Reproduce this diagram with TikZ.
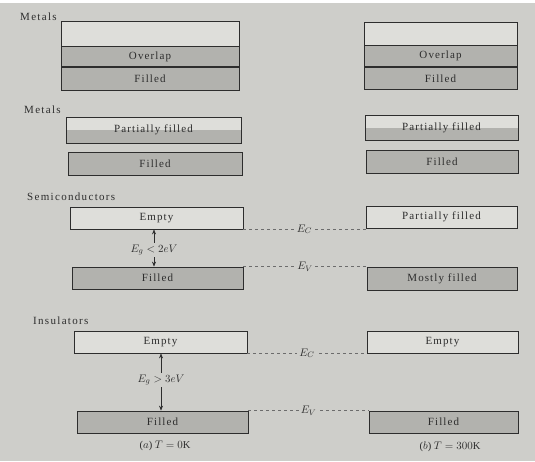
\documentclass[tikz,border=0pt]{standalone}
\usepackage{fontspec}
\setmainfont{Liberation Serif}
\usetikzlibrary{arrows.meta}
\definecolor{bgc}{RGB}{206,206,202}
\definecolor{emptyc}{RGB}{222,222,218}
\definecolor{fillc}{RGB}{178,178,174}
\definecolor{inkc}{RGB}{45,45,45}
\tikzset{
  band/.style={draw=inkc, line width=0.8pt, inner sep=0pt, text=inkc,
    font=\fontsize{11}{13}\selectfont\addfontfeature{LetterSpace=10}},
  emptyband/.style={band, fill=emptyc},
  fullband/.style={band, fill=fillc},
  halfband/.style={band, fill=emptyc, path picture={\fill[fillc] (path picture bounding box.west) rectangle (path picture bounding box.south east);}},
  section/.style={anchor=west, text=inkc, inner sep=0pt,
    font=\fontsize{11}{13}\selectfont\addfontfeature{LetterSpace=12}},
  level/.style={draw=inkc!70, dashed, line width=0.5pt},
  levellabel/.style={fill=bgc, inner sep=2pt, text=inkc, font=\fontsize{11}{13}\selectfont},
  gap/.style={fill=bgc, inner sep=1.5pt, text=inkc, font=\fontsize{11}{13}\selectfont},
  gaparrow/.style={draw=inkc, line width=0.6pt, -{Stealth[length=5pt,width=4pt]}},
  caption/.style={text=inkc, font=\fontsize{10.5}{12}\selectfont}
}
\begin{document}
\begin{tikzpicture}[x=1pt,y=-1pt]
\useasboundingbox (0,0) rectangle (535,461);
\fill[bgc] (0,0) rectangle (535,461);
\fill[white] (0,0) rectangle (535,3);

% ---- Metals (overlap)
\node[section] (t1) at (20,17) {Metals};
\node[emptyband, minimum width=178pt, minimum height=25pt] (l1a) at (150,33.5) {};
\node[fullband, minimum width=178pt, minimum height=20pt, anchor=north] (l1b) at (l1a.south) {Overlap};
\node[fullband, minimum width=178pt, minimum height=23pt, anchor=north] (l1c) at (l1b.south) {Filled};
\node[emptyband, minimum width=153pt, minimum height=23pt] (r1a) at (440.5,33.5) {};
\node[fullband, minimum width=153pt, minimum height=21pt, anchor=north] (r1b) at (r1a.south) {Overlap};
\node[fullband, minimum width=153pt, minimum height=22pt, anchor=north] (r1c) at (r1b.south) {Filled};

% ---- Metals (partially filled)
\node[section] (t2) at (24,110) {Metals};
\node[halfband, minimum width=175pt, minimum height=26pt] (l2a) at (153.5,130) {Partially filled};
\node[fullband, minimum width=174pt, minimum height=23pt] (l2b) at (155,163.5) {Filled};
\node[halfband, minimum width=153pt, minimum height=25pt] (r2a) at (441.5,127.5) {Partially filled};
\node[fullband, minimum width=152pt, minimum height=23pt] (r2b) at (442,161.5) {Filled};

% ---- Semiconductors
\node[section] (t3) at (27,197) {Semiconductors};
\node[emptyband, minimum width=173pt, minimum height=22pt] (l3a) at (156.5,218) {Empty};
\node[fullband, minimum width=171pt, minimum height=22pt] (l3b) at (157.5,278) {Filled};
\node[emptyband, minimum width=151pt, minimum height=22pt] (r3a) at (441.5,217) {Partially filled};
\node[fullband, minimum width=150pt, minimum height=23pt] (r3b) at (442,278.5) {Mostly filled};
\node[gap] (g3) at (154,250) {$E_g < 2eV$};
\draw[gaparrow] (g3.north) -- (g3.north |- l3a.south);
\draw[gaparrow] (g3.south) -- (g3.south |- l3b.north);
\draw[level] (l3a.south east) -- (l3a.south east -| r3a.west) node[levellabel, midway] (ec3) {$E_C$};
\draw[level] (l3b.north east) -- (l3b.north east -| r3b.west) node[levellabel, midway] (ev3) {$E_V$};

% ---- Insulators
\node[section] (t4) at (33,321) {Insulators};
\node[emptyband, minimum width=173pt, minimum height=22pt] (l4a) at (160.5,342) {Empty};
\node[fullband, minimum width=171pt, minimum height=22pt] (l4b) at (162.5,422) {Filled};
\node[emptyband, minimum width=151pt, minimum height=22pt] (r4a) at (442.5,342) {Empty};
\node[fullband, minimum width=149pt, minimum height=22pt] (r4b) at (443.5,422) {Filled};
\node[gap] (g4) at (161,380) {$E_g > 3eV$};
\draw[gaparrow] (g4.north) -- (g4.north |- l4a.south);
\draw[gaparrow] (g4.south) -- (g4.south |- l4b.north);
\draw[level] (l4a.south east) -- (l4a.south east -| r4a.west) node[levellabel, midway] (ec4) {$E_C$};
\draw[level] (l4b.north east) -- (l4b.north east -| r4b.west) node[levellabel, midway] (ev4) {$E_V$};

% ---- Captions
\node[caption] (ca) at (165,446) {($a$) $T=0$K};
\node[caption] (cb) at (450,447) {($b$) $T=300$K};
\end{tikzpicture}
\end{document}
